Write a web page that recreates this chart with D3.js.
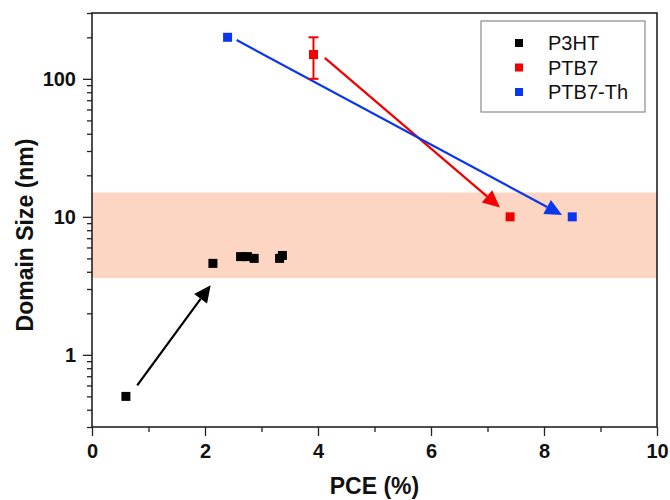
<!DOCTYPE html>
<html>
<head>
<meta charset="utf-8">
<script src="https://cdn.jsdelivr.net/npm/d3@7"></script>
<style>
body { margin: 0; background: #fff; }
text { font-family: "Liberation Sans", Arial, sans-serif; }
</style>
</head>
<body>
<div id="chart"></div>
<script>
// series (PCE %, domain size nm)
var p3htPCE  = [0.6, 2.14, 2.63, 2.75, 2.87, 3.32, 3.37];
var p3htSize = [0.5, 4.6, 5.15, 5.15, 5.0, 5.0, 5.25];

var ptb7PCE  = [3.92, 7.4];
var ptb7Size = [150, 10];
var ptb7ErrLo = [100, null];
var ptb7ErrHi = [200, null];

var ptb7thPCE  = [2.4, 8.5];
var ptb7thSize = [200, 10];

// shaded band (nm)
var bandRange = [3.6, 15];

// arrows: [x0, y0, x1, y1] in data units
var arrowP3HT   = [0.8, 0.6, 2.1, 3.2];
var arrowPTB7   = [4.12, 142, 7.22, 11.7];
var arrowPTB7Th = [2.56, 191, 8.32, 10.3];

var seriesNames  = ["P3HT", "PTB7", "PTB7-Th"];
var seriesColors = ["#000000", "#f20000", "#0a36f0"];

var xMajor = [0, 2, 4, 6, 8, 10];
var xMinor = [1, 3, 5, 7, 9];
var yMajor = [1, 10, 100];
var yMinor = [0.3, 0.4, 0.5, 0.6, 0.7, 0.8, 0.9, 2, 3, 4, 5, 6, 7, 8, 9, 20, 30, 40, 50, 60, 70, 80, 90, 200, 300];

var width = 670, height = 500;
var margin = {top: 13, right: 13, bottom: 73, left: 92};

var svg = d3.select("#chart").append("svg")
    .attr("width", width)
    .attr("height", height);

var x = d3.scaleLinear()
    .domain([0, 10])
    .range([margin.left, width - margin.right]);

var y = d3.scaleLog()
    .domain([0.3, 300])
    .range([height - margin.bottom, margin.top]);

// band
svg.append("rect")
    .attr("x", x(0))
    .attr("width", x(10) - x(0))
    .attr("y", y(bandRange[1]))
    .attr("height", y(bandRange[0]) - y(bandRange[1]))
    .style("fill", "#fcd6c3");

// axes
var xAxis = d3.axisBottom(x).tickValues(xMajor).tickSize(9).tickSizeOuter(0).tickFormat(d3.format("d"));
var xAxisMinor = d3.axisBottom(x).tickValues(xMinor).tickSize(5).tickSizeOuter(0).tickFormat("");
var yAxis = d3.axisLeft(y).tickValues(yMajor).tickSize(9).tickSizeOuter(0).tickFormat(d3.format("d"));
var yAxisMinor = d3.axisLeft(y).tickValues(yMinor).tickSize(5).tickSizeOuter(0).tickFormat("");

function styleAxis(g){
    g.select(".domain").remove();
    g.selectAll("line").style("stroke", "#222").style("stroke-width", 1.3);
    g.selectAll("text")
        .style("font-family", '"Liberation Sans", Arial, sans-serif')
        .style("font-weight", "bold")
        .style("font-size", "20px")
        .style("fill", "#111");
}

svg.append("g").attr("transform", "translate(0," + y(0.3) + ")").call(xAxisMinor).call(styleAxis);
svg.append("g").attr("transform", "translate(0," + y(0.3) + ")").call(xAxis).call(styleAxis)
    .selectAll("text").attr("dy", "0.95em");
svg.append("g").attr("transform", "translate(" + x(0) + ",0)").call(yAxisMinor).call(styleAxis);
svg.append("g").attr("transform", "translate(" + x(0) + ",0)").call(yAxis).call(styleAxis)
    .selectAll("text").attr("x", -16);

// frame
svg.append("rect")
    .attr("x", x(0))
    .attr("y", y(300))
    .attr("width", x(10) - x(0))
    .attr("height", y(0.3) - y(300))
    .style("fill", "none")
    .style("stroke", "#222")
    .style("stroke-width", 1.6);

// axis titles
svg.append("text")
    .attr("x", (x(0) + x(10)) / 2)
    .attr("y", 494)
    .attr("text-anchor", "middle")
    .style("font-size", "23px")
    .style("font-weight", "bold")
    .style("fill", "#111")
    .text("PCE (%)");

svg.append("text")
    .attr("transform", "translate(33,235) rotate(-90)")
    .attr("text-anchor", "middle")
    .style("font-size", "23px")
    .style("font-weight", "bold")
    .style("fill", "#111")
    .text("Domain Size (nm)");

// arrows
function addArrow(a, color){
    var x0 = x(a[0]), y0 = y(a[1]), x1 = x(a[2]), y1 = y(a[3]);
    var ang = Math.atan2(y1 - y0, x1 - x0);
    var headLen = 17, headW = 8;
    var bx = x1 - headLen * Math.cos(ang), by = y1 - headLen * Math.sin(ang);
    svg.append("line")
        .attr("x1", x0).attr("y1", y0)
        .attr("x2", bx).attr("y2", by)
        .style("stroke", color)
        .style("stroke-width", 2.2);
    var px = -Math.sin(ang), py = Math.cos(ang);
    svg.append("path")
        .attr("d", "M" + x1 + "," + y1 +
                   "L" + (bx + px * headW) + "," + (by + py * headW) +
                   "L" + (bx - px * headW) + "," + (by - py * headW) + "Z")
        .style("fill", color);
}
addArrow(arrowP3HT, seriesColors[0]);
addArrow(arrowPTB7, seriesColors[1]);
addArrow(arrowPTB7Th, seriesColors[2]);

// error bar
var capW = 5;
ptb7PCE.forEach(function(d, i){
    if(ptb7ErrLo[i] == null) return;
    var g = svg.append("g").style("stroke", seriesColors[1]).style("stroke-width", 2);
    g.append("line").attr("x1", x(d)).attr("x2", x(d)).attr("y1", y(ptb7ErrLo[i])).attr("y2", y(ptb7ErrHi[i]));
    g.append("line").attr("x1", x(d) - capW).attr("x2", x(d) + capW).attr("y1", y(ptb7ErrLo[i])).attr("y2", y(ptb7ErrLo[i]));
    g.append("line").attr("x1", x(d) - capW).attr("x2", x(d) + capW).attr("y1", y(ptb7ErrHi[i])).attr("y2", y(ptb7ErrHi[i]));
});

// points
var sq = 9;
function addSquares(xs, ys, color){
    svg.append("g").selectAll("rect")
        .data(xs)
        .enter().append("rect")
        .attr("x", function(d){ return x(d) - sq / 2; })
        .attr("y", function(d, i){ return y(ys[i]) - sq / 2; })
        .attr("width", sq)
        .attr("height", sq)
        .style("fill", color);
}
addSquares(p3htPCE, p3htSize, seriesColors[0]);
addSquares(ptb7PCE, ptb7Size, seriesColors[1]);
addSquares(ptb7thPCE, ptb7thSize, seriesColors[2]);

// legend
var legend = svg.append("g");
legend.append("rect")
    .attr("x", 481).attr("y", 21)
    .attr("width", 164).attr("height", 91)
    .style("fill", "#fff")
    .style("stroke", "#8a8a8a")
    .style("stroke-width", 1.2);
seriesNames.forEach(function(name, i){
    var cy = 43 + i * 24.5;
    legend.append("rect")
        .attr("x", 519 - 4).attr("y", cy - 4)
        .attr("width", 8).attr("height", 8)
        .style("fill", seriesColors[i]);
    legend.append("text")
        .attr("x", 548).attr("y", cy)
        .attr("dy", "0.36em")
        .style("font-size", "20px")
        .style("fill", "#111")
        .text(name);
});
</script>
</body>
</html>
